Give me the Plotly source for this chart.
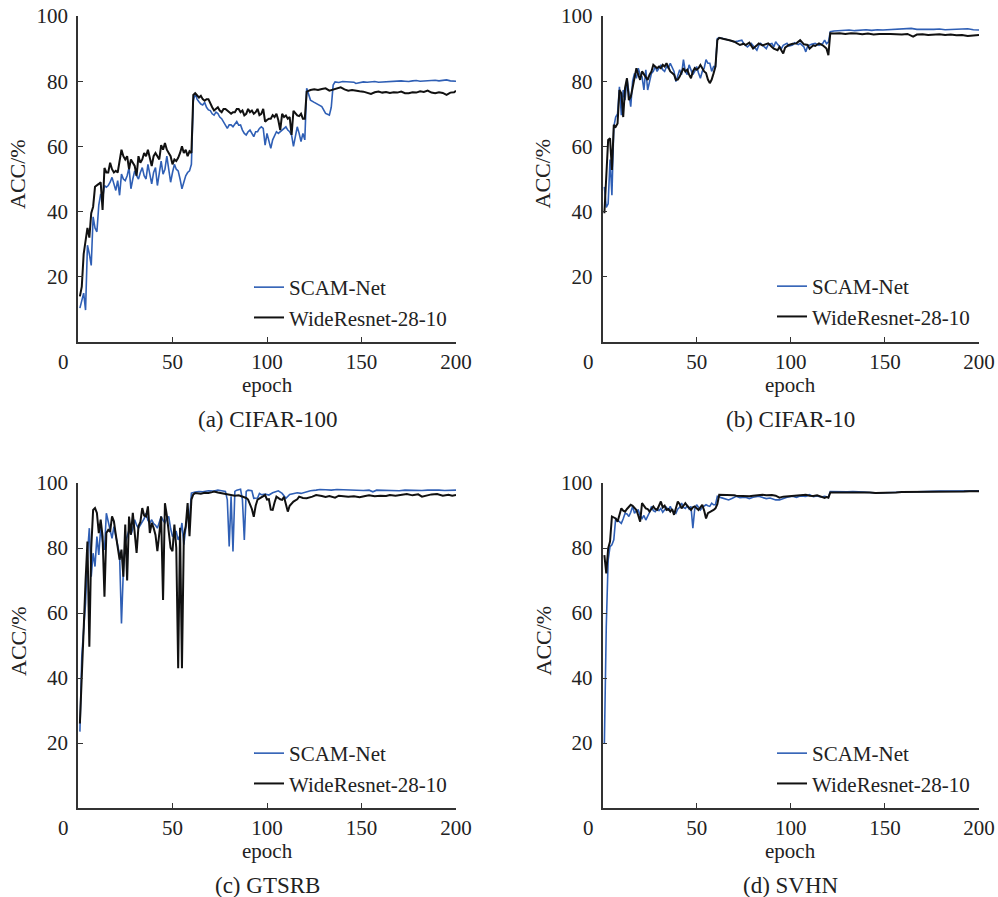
import plotly.graph_objects as go

# ---------------- data: (epoch, accuracy %) ----------------
a_scam = [(1,10.4),(2,12.9),(3,15),(4,9.8),(5,29.7),(6,27),(7,23.5),(8,38.4),(9,35),(10,33.8),
          (11,42),(12,45.4),(13,44),(14,48),(15,47.5),(16,48),(17,49),(18,50.5),(19,48),(20,46.5),
          (21,49.5),(22,45),(23,51.5),(24,50),(25,49.5),(26,51),(27,53.5),(28,47),(29,50),(30,52.5),
          (31,51),(32,50),(33,52),(34,53.5),(35,51),(36,50),(37,54.5),(38,52),(39,48.5),(40,52),
          (41,53.5),(42,48),(43,52),(44,55.5),(45,51.5),(46,53),(47,57),(48,53),(49,49),(50,52),
          (51,54.5),(52,53),(53,52.5),(54,50),(55,47),(56,49),(57,51),(58,52),(59,52.5),(60,54.5),
          (61,74),(62,76.3),(63,74.5),(64,73.7),(65,73),(66,72.7),(67,73.5),(68,72),(69,71.2),(70,71),
          (71,70),(72,69.6),(73,70.5),(74,70.1),(75,69),(76,68.5),(77,67.6),(78,66.5),(79,65.5),(80,66.6),
          (81,66.6),(82,66),(83,67),(84,67.6),(85,66.5),(86,66.6),(87,65),(88,64),(89,63.5),(90,64.5),
          (91,65),(92,64),(93,63),(94,64.5),(95,64.5),(96,65.5),(97,66),(98,65.5),(99,60.4),(100,64),
          (101,62),(102,59.4),(103,62),(104,63.5),(105,64.5),(106,64),(107,64.5),(108,65),(109,65.5),(110,66),
          (111,65),(112,64.5),(113,63.5),(114,60),(115,63),(116,66),(117,64),(118,61.5),(119,64),(120,62),
          (121,77.8),(123,74.2),(125,73.5),(126,73.2),(128,72.5),(129,72.2),(131,70.1),(133,69.6),(134,72),
          (135,78.8),(136,79.8),(138,79.6),(140,79.9),(142,79.8),(144,79.6),(146,79.7),(147,79.3),(149,79.6),
          (151,79.8),(153,79.7),(155,79.8),(157,79.9),(159,79.7),(161,79.8),(163,79.8),(165,80),(167,79.9),
          (169,80),(171,80.1),(173,80),(175,79.9),(177,80.1),(179,80.2),(181,80),(183,80.1),(185,80.1),
          (187,80.2),(189,80.3),(191,80.1),(193,80.3),(195,80.4),(197,80.1),(199,80),(200,80)]

a_wrn = [(1,14),(2,17),(3,27),(4,31),(5,35),(6,32),(7,39.5),(8,41.5),(9,47.6),(11,48.5),
         (12,49),(13,40.5),(14,53.4),(15,52),(16,52),(17,55),(18,53),(19,52),(20,52.5),(21,52),
         (22,55),(23,59),(24,57),(25,56),(26,57),(27,53),(28,56),(29,55),(30,54),(31,51),
         (32,57),(33,55),(34,56),(35,58),(36,57),(37,59),(38,56),(39,54),(40,57),(41,58),
         (42,57),(43,56),(44,60.4),(45,59),(46,61),(47,59),(48,58),(49,57),(50,54.5),(51,56),
         (52,55.5),(53,56.5),(54,58),(55,60),(56,58),(57,59),(58,57),(59,58.5),(60,58),
         (61,75.8),(62,76.3),(63,75.5),(64,75),(65,75.5),(66,74.5),(67,74),(68,74.5),(69,74.5),(70,73),
         (71,72),(72,71),(73,71.5),(74,72),(75,71),(76,70.5),(77,71.5),(78,71.5),(79,71),(80,70.6),
         (81,70),(82,70.5),(83,70.5),(84,71.5),(85,71.5),(86,70.5),(87,71),(88,69.5),(89,70),(90,71.5),
         (91,70.5),(92,71),(93,70),(94,70.5),(95,71.5),(96,69.6),(97,70),(98,71.5),(99,67.6),(100,68.1),
         (101,68.5),(102,68.5),(103,69.6),(104,69),(105,70),(106,68),(107,65),(108,70),(109,69),(110,69.5),
         (111,68.5),(112,69),(113,63.5),(114,70.9),(115,70),(116,69.5),(117,69.3),(118,70),(119,68.5),(120,68.5),
         (121,76.8),(123,77.3),(125,77.5),(127,77.3),(129,77.6),(131,77.8),(133,77.1),(135,77.5),(137,77.8),
         (139,78.1),(141,77.5),(143,77.1),(145,77.3),(147,77),(149,76.9),(151,76.8),(153,76.5),(155,76.1),
         (157,76.6),(159,76.8),(161,76.5),(163,76.7),(165,76.4),(167,76.6),(169,76.5),(171,76.8),(173,76.3),
         (175,76.3),(177,76.6),(179,76.5),(181,76.9),(183,76.7),(185,77.1),(187,76.5),(189,76.3),(191,76.6),
         (193,76.4),(195,75.8),(197,76.5),(199,76.6),(200,77.1)]

b_scam = [(1,47.6),(2,41.3),(3,42.4),(4,56),(5,45),(6,66),(7,69),(8,70),(9,78.3),(10,69.6),
          (11,77.3),(12,74.2),(13,80.9),(14,76),(15,72.2),(16,80),(17,82.4),(18,80.9),(19,84),(20,82),
          (21,81.4),(22,77.3),(23,83.5),(24,77.3),(25,80),(26,82.4),(27,83),(28,84.5),(29,83),(30,84),
          (31,85),(32,83.5),(33,83),(34,84.5),(35,84),(36,85.5),(37,84),(38,83),(39,79.9),(40,82),
          (41,83.5),(42,82),(43,86.6),(44,83),(45,82),(46,85),(47,83.5),(48,82),(49,83),(50,84.5),
          (51,82.5),(52,80.9),(53,83),(54,84),(55,86.6),(56,85.5),(57,85.5),(58,83),(59,84.5),(60,84.5),
          (61,93.1),(62,93.3),(64,93.1),(66,92.8),(68,92.6),(70,92.1),(72,92.3),(74,92.6),(75,91.5),(77,90.5),
          (79,91.6),(80,90.8),(82,89.5),(83,91),(84,91.6),(86,90.5),(87,90),(88,91.2),(90,91.6),(91,90.5),
          (92,92.1),(93,91.3),(95,90),(96,91),(98,91.6),(99,90.8),(101,91.1),(102,91.8),(104,91.2),(105,91.6),
          (107,90.5),(108,89),(109,90.8),(111,91.3),(113,91.6),(115,91),(117,91.6),(118,92.6),(119,91.5),(120,92),
          (121,95.2),(123,95.4),(125,95.5),(128,95.6),(131,95.7),(134,95.5),(137,95.7),(140,95.8),(143,95.6),
          (146,95.8),(149,95.7),(152,95.8),(155,95.7),(158,95.9),(161,96),(164,96.2),(167,95.9),(170,96),
          (173,95.9),(176,95.9),(179,96),(182,95.8),(185,95.9),(188,96),(191,95.9),(194,96.1),(197,95.8),(200,95.7)]

b_wrn = [(1,39.5),(2,49.7),(3,62),(4,62.5),(5,52.8),(6,66.6),(7,66),(8,67),(9,77.3),(10,76.3),
         (11,69),(12,78),(13,80.9),(14,74.2),(15,75.2),(16,78),(17,81.4),(18,84),(19,82),(20,80.4),
         (21,83),(22,82),(23,81),(24,80.4),(25,82),(26,83),(27,85),(28,84.5),(29,84),(30,84.5),
         (31,84),(32,85),(33,84.5),(34,85.5),(35,84),(36,83),(37,82.5),(38,82),(39,80.4),(40,80.5),
         (41,81.4),(42,82.5),(43,84),(44,83),(45,83.5),(46,82),(47,80.9),(48,83),(49,84),(50,83.5),
         (51,84),(52,85),(53,84),(54,83),(55,82.5),(56,80.5),(57,79.4),(58,80.5),(59,82.4),(60,84.5),
         (61,92.6),(62,93.3),(64,93),(66,92.8),(68,92.5),(70,92.1),(72,91.5),(73,91.1),(75,91.5),(76,91.1),
         (78,91.8),(80,90),(82,91),(83,91.6),(85,91),(88,91.6),(90,90.5),(91,90),(93,89.5),(94,90.5),
         (96,88.5),(97,90.3),(99,91.1),(101,91.5),(103,91.6),(105,92.6),(107,91.3),(109,91.1),(110,90),(112,91),
         (113,90.8),(115,91.6),(117,91),(118,90.5),(119,90),(120,88),
         (121,94.7),(123,94.6),(126,94.7),(129,94.5),(132,94.7),(135,94.6),(138,94.4),(141,94.6),(144,94.3),
         (147,94.5),(150,94.6),(153,94.5),(156,94.4),(159,94.3),(162,94.5),(165,93.7),(167,94.3),(170,94.4),
         (173,94.2),(176,94.3),(179,94.4),(182,94.2),(185,94.3),(188,94.1),(191,94.2),(194,93.9),(197,94),(200,94.2)]

c_scam = [(1,23.5),(2,46.6),(3,55),(4,63),(5,78.4),(6,86.1),(7,71.2),(8,78.4),(9,74.3),(10,83.5),
          (11,77.9),(12,86.1),(13,82),(14,79.4),(15,90.7),(16,88),(17,86.1),(18,83),(19,86.6),(20,83.5),
          (21,80),(22,77.9),(23,56.8),(24,73.2),(25,81.5),(26,84),(27,85.6),(28,84.1),(29,86),(30,88.7),
          (31,87),(32,86.1),(33,87),(34,87.7),(35,89),(36,90.7),(37,88.5),(38,87.7),(39,88.7),(40,87.5),
          (41,87),(42,86.1),(43,88),(44,89.7),(45,88.5),(46,87.7),(47,89),(48,89.7),(49,86),(50,83.5),
          (51,84.6),(52,85),(53,82.5),(54,84),(55,87.7),(56,81),(57,86),(58,90.7),(59,88.7),
          (60,96.9),(62,97.2),(64,97.4),(66,97.3),(69,97.6),(72,97.5),(74,97.8),(76,97.6),(78,97.4),(79,94.8),
          (80,80.5),(81,95.9),(82,78.9),(83,97.4),(84,97.8),(86,98.1),(87,94.8),(88,82.5),(89,97.4),(90,97.8),
          (92,97.6),(93,95.3),(95,95.4),(96,96.8),(97,96.4),(99,96.6),(101,96.3),(103,97),(106,97.6),(108,96.8),
          (110,95.3),(112,96.5),(114,96.8),(116,97),(118,96.8),(120,97.2),(123,97.6),(126,97.8),(128,98),
          (131,97.9),(134,97.8),(137,98),(140,97.9),(143,97.8),(146,97.9),(148,97.8),(151,97.7),(154,97.8),
          (156,97.3),(158,97.8),(161,97.7),(164,97.6),(167,97.7),(170,97.6),(173,97.8),(176,97.7),(179,97.8),
          (182,97.7),(185,97.8),(188,97.9),(191,97.8),(194,97.7),(197,97.8),(200,97.8)]

c_wrn = [(1,26),(2,38.6),(3,55),(4,70),(5,82),(6,49.6),(7,80),(8,91.7),(9,92.3),(10,90.8),
         (11,84.6),(12,88.7),(13,83.6),(14,65),(15,84.6),(16,85.6),(17,85),(18,89.7),(19,88.2),(20,84.1),
         (21,80),(22,76.4),(23,79.5),(24,71.2),(25,87.2),(26,70),(27,89.7),(28,84.1),(29,90.8),(30,84),
         (31,78.5),(32,86.7),(33,88),(34,92.3),(35,90),(36,89.7),(37,92.8),(38,84.6),(39,87.7),(40,86.2),
         (41,84),(42,79),(43,85),(44,89.7),(45,64),(46,93.8),(47,90),(48,84.6),(49,80),(50,79),
         (51,87.2),(52,80),(53,43),(54,86.2),(55,43),(56,84),(57,86.7),(58,93.8),(59,83.6),(60,94.9),
         (61,96.5),(62,96.9),(64,96.8),(65,96.7),(67,97),(69,96.9),(71,97.2),(72,97.4),(74,97.1),(76,96.9),
         (78,96.5),(80,96.4),(82,96.3),(83,96.1),(85,96.2),(87,95.9),(89,95.4),(90,94.9),(92,92),(93,89.6),
         (94,93),(95,94.9),(97,95.5),(99,96.3),(100,94.9),(101,95),(102,91.8),(103,91.7),(104,94),(105,95.8),
         (107,95),(108,94.8),(109,95.8),(111,91.2),(112,93),(114,94.3),(116,95),(117,95.8),(119,95.4),(121,95.3),
         (124,95.8),(126,96.3),(129,96),(131,95.7),(133,96),(136,95.5),(138,96.1),(140,96),(143,95.8),(146,95.9),
         (149,95.6),(152,96),(154,96.2),(157,95.9),(160,96.1),(163,96),(165,96.3),(168,96.1),(171,96.4),
         (174,96.6),(177,96.2),(180,96.5),(182,95.8),(185,96.3),(187,96.5),(190,96.6),(193,96.1),(196,96.4),
         (198,96.1),(200,96.3)]

d_scam = [(1,20),(2,55.8),(3,76.3),(4,80.4),(5,81),(6,82.5),(7,89.1),(8,88.6),(9,88),(10,87.6),
          (11,89),(12,90.7),(13,90.5),(14,89.7),(15,91),(16,92.8),(17,90.7),(18,91.5),(19,91.7),(20,90),
          (21,89.1),(22,90),(23,88.6),(24,89.7),(25,91),(26,92.8),(27,91.5),(28,91.2),(29,92),(30,91.5),
          (31,92.2),(32,91),(33,91.7),(34,92.5),(35,91.5),(36,92.8),(37,91.5),(38,91),(39,90.7),(40,92),
          (41,92.5),(42,93.8),(43,92.5),(44,92.2),(45,93),(46,92),(47,92.8),(48,86.1),(49,92),(50,93.3),
          (51,92.5),(52,91.7),(53,92.5),(54,93),(55,93.3),(56,93),(57,92.8),(58,93.8),(59,93.3),(60,93.3),
          (61,95.9),(63,95.5),(64,95.3),(66,95),(67,94.8),(69,95.3),(71,95.9),(73,95.5),(76,95.6),(78,95.2),
          (80,95.6),(83,95.9),(85,95.5),(87,95.2),(89,95.4),(91,95.1),(92,94.8),(94,94.8),(96,95.3),(98,95.6),
          (101,95.9),(103,95.6),(105,96),(108,95.9),(110,96.4),(112,95.8),(114,96),(116,95.7),(118,95.9),(120,95.6),
          (121,97.4),(124,97.3),(127,97.4),(130,97.3),(133,97.4),(136,97.4),(139,97.2),(142,97.1),(145,96.9),
          (147,96.9),(150,97),(153,97.1),(156,97.2),(158,97.1),(161,97.2),(164,97.3),(167,97.3),(170,97.4),
          (173,97.4),(176,97.4),(179,97.5),(182,97.5),(185,97.5),(188,97.6),(191,97.6),(194,97.5),(197,97.6),(200,97.6)]

d_wrn = [(1,77.8),(2,72.2),(3,79.9),(4,82),(5,89.7),(6,89.5),(7,89.1),(8,88.1),(9,90),(10,92.2),
         (11,91.5),(12,91.2),(13,92),(14,92.8),(15,93.3),(16,93),(17,92.5),(18,91.7),(19,90),(20,88.1),
         (21,93.8),(22,93),(23,92.2),(24,92),(25,91.2),(26,92),(27,92.8),(28,92),(29,91.7),(30,93),
         (31,94.3),(32,92.5),(33,93),(34,91.7),(35,92),(36,91.2),(37,92),(38,90.2),(39,92),(40,94.3),
         (41,93.5),(42,92.2),(43,93),(44,93.8),(45,93),(46,92.5),(47,91.7),(48,92.5),(49,92.8),(50,92.2),
         (51,91.7),(52,92.5),(53,93.3),(54,91.5),(55,89.1),(56,90.7),(57,91),(58,91.2),(59,91.7),(60,92.2),
         (61,93.5),(62,96.4),(64,96.4),(66,96.4),(68,96.2),(70,96.2),(71,96.1),(73,96),(76,96),(78,95.9),
         (80,96.1),(83,96.3),(85,96.4),(87,96.2),(90,96.3),(92,96.1),(94,95.5),(96,95.8),(99,96),(101,95.9),
         (103,96.2),(105,96.3),(108,96.4),(110,96.1),(112,96),(114,96.2),(116,95.9),(118,95.4),(119,95.7),(120,95.5),
         (121,97.1),(124,97.1),(127,97.2),(130,97.2),(133,97.1),(136,97.2),(139,97),(142,97.1),(145,96.9),
         (147,96.9),(150,97),(153,97.1),(156,97.1),(159,97.2),(162,97.2),(165,97.2),(168,97.3),(171,97.3),
         (174,97.3),(177,97.3),(180,97.4),(183,97.4),(186,97.4),(189,97.4),(192,97.4),(195,97.5),(198,97.4),(200,97.5)]

series_names = ["SCAM-Net", "WideResnet-28-10"]
panel_titles = ["(a) CIFAR-100", "(b) CIFAR-10", "(c) GTSRB", "(d) SVHN"]
x_ticks = [50, 100, 150, 200]
y_ticks = [20, 40, 60, 80, 100]
x_label = "epoch"
y_label = "ACC/%"

# ---------------- layout geometry ----------------
W, H = 998, 897
FONT = "Liberation Serif, Times New Roman, serif"
TXT = "#222222"
AX = "#333333"
BLUE = "#2f5fb5"
BLACK = "#111111"


def px(xp):
    return xp / W


def py(yp):
    return 1 - yp / H


# target pixel boxes (left, right, top(y=100), bottom(y=0))
boxes = [(78, 456, 16, 342), (602.5, 979, 16, 342), (78, 456, 483, 808), (602.5, 979, 483, 808)]
legend_pos = [(249, 267), (772, 266), (249, 733), (772, 733)]

fig = go.Figure()
panels = [(a_scam, a_wrn), (b_scam, b_wrn), (c_scam, c_wrn), (d_scam, d_wrn)]
for i, (scam, wrn) in enumerate(panels):
    n = i + 1
    xa = "x" if n == 1 else f"x{n}"
    ya = "y" if n == 1 else f"y{n}"
    lg = "legend" if n == 1 else f"legend{n}"
    for data, name, col, w in [(scam, series_names[0], BLUE, 1.6), (wrn, series_names[1], BLACK, 2.0)]:
        ex, ey = zip(*data)
        fig.add_trace(go.Scatter(x=list(ex), y=list(ey), mode="lines", name=name,
                                 line=dict(color=col, width=w), xaxis=xa, yaxis=ya,
                                 legend=lg, showlegend=True))

layout = dict(width=W, height=H,
              margin=dict(l=0, r=0, t=0, b=0, pad=0, autoexpand=False),
              paper_bgcolor="white", plot_bgcolor="white",
              font=dict(family=FONT, size=21, color=TXT))
annotations = []
for i, (l, r, t, b) in enumerate(boxes):
    n = i + 1
    sx = "" if n == 1 else str(n)
    xdom = [px(l), px(r)]
    ydom = [py(b), py(t)]
    layout[f"xaxis{sx}"] = dict(domain=xdom, range=[0, 200], anchor=f"y{sx}", automargin=False,
                               tickvals=x_ticks, ticks="inside", ticklen=5, tickwidth=1.3,
                               tickcolor=AX, showline=True, linecolor=AX, linewidth=1.5,
                               showgrid=False, zeroline=False, ticklabeloverflow="allow",
                               tickfont=dict(family=FONT, size=21, color=TXT))
    layout[f"yaxis{sx}"] = dict(domain=ydom, range=[0, 100], anchor=f"x{sx}", automargin=False,
                               tickvals=y_ticks, ticks="inside", ticklen=5, tickwidth=1.3,
                               tickcolor=AX, showline=True, linecolor=AX, linewidth=1.5,
                               showgrid=False, zeroline=False, ticklabelstandoff=4,
                               ticklabeloverflow="allow",
                               tickfont=dict(family=FONT, size=21, color=TXT))
    # axis titles, origin "0" label and panel captions
    annotations.append(dict(text=x_label, xref="paper", yref="paper", x=px((l + r) / 2),
                            y=py(b + 43), xanchor="center", yanchor="middle", showarrow=False,
                            font=dict(family=FONT, size=21, color=TXT)))
    annotations.append(dict(text=y_label, xref="paper", yref="paper", x=px(l - 60),
                            y=py(t + 158), xanchor="center", yanchor="middle", showarrow=False,
                            textangle=-90, font=dict(family=FONT, size=22, color=TXT)))
    annotations.append(dict(text="0", xref="paper", yref="paper", x=px(l - 14), y=py(b + 20),
                            xanchor="center", yanchor="middle", showarrow=False,
                            font=dict(family=FONT, size=21, color=TXT)))
    annotations.append(dict(text=panel_titles[i], xref="paper", yref="paper",
                            x=px((l + r) / 2), y=py(b + 77),
                            xanchor="center", yanchor="middle", showarrow=False,
                            font=dict(family=FONT, size=23, color=TXT)))
    lx, ly = legend_pos[i]
    layout["legend" if n == 1 else f"legend{n}"] = dict(
        x=px(lx), y=py(ly), xanchor="left", yanchor="top", bgcolor="rgba(0,0,0,0)",
        font=dict(family=FONT, size=21, color=TXT), itemwidth=30, tracegroupgap=0,
        traceorder="normal")
layout["annotations"] = annotations
fig.update_layout(**layout)
fig.write_html("out.html", config={"displayModeBar": False},
               post_script="document.body.style.margin='0';document.body.style.overflow='hidden';")
